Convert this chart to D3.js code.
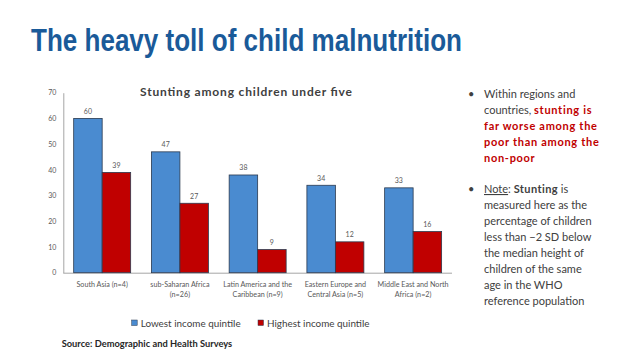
<!DOCTYPE html>
<html>
<head>
<meta charset="utf-8">
<script src="https://cdn.jsdelivr.net/npm/d3@7"></script>
<style>
html,body{margin:0;padding:0;background:#fff;}
svg{display:block;}
</style>
</head>
<body>
<svg id="c" width="638" height="359"></svg>
<script>
const categories = ["South Asia (n=4)", "sub-Saharan Africa (n=26)", "Latin America and the Caribbean (n=9)", "Eastern Europe and Central Asia (n=5)", "Middle East and North Africa (n=2)"];
const categoryLines = [["South Asia (n=4)"], ["sub-Saharan Africa", "(n=26)"], ["Latin America and the", "Caribbean (n=9)"], ["Eastern Europe and", "Central Asia (n=5)"], ["Middle East and North", "Africa (n=2)"]];
const seriesNames = ["Lowest income quintile", "Highest income quintile"];
const lowest = [60, 47, 38, 34, 33];
const highest = [39, 27, 9, 12, 16];
const yTicks = [0, 10, 20, 30, 40, 50, 60, 70];
const seriesColors = ["#4a8bd0", "#c00000"];

const svg = d3.select("#c");
const FONT = "Lato, 'Open Sans', sans-serif";

// Main title
svg.append("text")
  .attr("x", 31).attr("y", 50.5)
  .attr("font-family", "'Liberation Sans', Arial, sans-serif")
  .attr("font-weight", "bold").attr("font-size", 31)
  .attr("fill", "#1a5a99")
  .attr("textLength", 431).attr("lengthAdjust", "spacingAndGlyphs")
  .text("The heavy toll of child malnutrition");

// Scales
const x0 = d3.scaleBand().domain(categories).range([63.3, 452]).paddingInner(0.267).paddingOuter(0.1335);
const x1 = d3.scaleBand().domain(seriesNames).range([0, x0.bandwidth()]);
const y = d3.scaleLinear().domain([0, 70]).range([272.7, 92.7]);

// Chart title
svg.append("text")
  .attr("x", 140).attr("y", 95.5)
  .attr("font-family", FONT).attr("font-weight", "bold").attr("font-size", 12)
  .attr("fill", "#404040")
  .attr("textLength", 212).attr("lengthAdjust", "spacing")
  .text("Stunting among children under five");

// Y axis
const yAxis = d3.axisLeft(y).tickValues(yTicks).tickSize(0).tickPadding(7);
const gy = svg.append("g").attr("transform", "translate(63.3,0)").call(yAxis);
gy.select(".domain").attr("stroke", "#a6a6a6");
gy.selectAll("text").attr("font-family", FONT).attr("font-size", 7).attr("fill", "#595959");

// X axis
const xAxis = d3.axisBottom(x0).tickSize(0).tickFormat("");
const gx = svg.append("g").attr("transform", "translate(0,272.7)").call(xAxis);
gx.select(".domain").attr("stroke", "#a6a6a6").attr("d", "M63.3,0.5H452");

// Bars
const data = categories.map((c, i) => ({cat: c, vals: [lowest[i], highest[i]]}));
const groups = svg.append("g").selectAll("g").data(data).join("g")
  .attr("transform", d => `translate(${x0(d.cat)},0)`);
groups.selectAll("rect").data(d => d.vals.map((v, j) => ({s: seriesNames[j], v, j}))).join("rect")
  .attr("x", d => x1(d.s)).attr("width", x1.bandwidth())
  .attr("y", d => y(d.v)).attr("height", d => y(0) - y(d.v))
  .attr("fill", d => seriesColors[d.j])
  .attr("stroke", "#2b3a4f").attr("stroke-width", 0.8);
groups.selectAll("text.v").data(d => d.vals.map((v, j) => ({s: seriesNames[j], v, j}))).join("text")
  .attr("class", "v")
  .attr("x", d => x1(d.s) + x1.bandwidth() / 2).attr("y", d => y(d.v) - 4.5)
  .attr("text-anchor", "middle")
  .attr("font-family", FONT).attr("font-size", 7).attr("fill", "#595959")
  .text(d => d.v);

// Category labels
categories.forEach((c, i) => {
  const t = svg.append("text")
    .attr("text-anchor", "middle")
    .attr("font-family", FONT).attr("font-size", 7.2).attr("fill", "#595959");
  categoryLines[i].forEach((ln, k) => {
    t.append("tspan").attr("x", x0(c) + x0.bandwidth() / 2).attr("y", 286.5 + k * 10).text(ln);
  });
});

// Legend
const legendX = [131.7, 258];
seriesNames.forEach((s, i) => {
  svg.append("rect").attr("x", legendX[i]).attr("y", 320).attr("width", 5.5).attr("height", 5.5)
    .attr("fill", seriesColors[i]).attr("stroke", "#2b3a4f").attr("stroke-width", 0.5);
  svg.append("text").attr("x", legendX[i] + 9).attr("y", 326.5)
    .attr("font-family", FONT).attr("font-size", 9.9).attr("fill", "#404040")
    .text(s);
});

// Source
svg.append("text").attr("x", 61.7).attr("y", 347)
  .attr("font-family", FONT).attr("font-weight", "bold").attr("font-size", 9.3).attr("fill", "#262626")
  .text("Source: Demographic and Health Surveys");

// Right-side bullet text
const rx = 484, bx = 468;
const bulletLines = [
  {y: 98, bullet: true, parts: [{t: "Within regions and"}]},
  {y: 114, parts: [{t: "countries, "}, {t: "stunting is", red: true}]},
  {y: 130, parts: [{t: "far worse among the", red: true}]},
  {y: 146, parts: [{t: "poor than among the", red: true}]},
  {y: 162, parts: [{t: "non-poor", red: true}]},
  {y: 193, bullet: true, parts: [{t: "Note", u: true}, {t: ": "}, {t: "Stunting", b: true}, {t: " is"}]},
  {y: 209, parts: [{t: "measured here as the"}]},
  {y: 225, parts: [{t: "percentage of children"}]},
  {y: 241, parts: [{t: "less than \u22122 SD below"}]},
  {y: 257, parts: [{t: "the median height of"}]},
  {y: 273, parts: [{t: "children of the same"}]},
  {y: 289, parts: [{t: "age in the WHO"}]},
  {y: 305, parts: [{t: "reference population"}]}
];
bulletLines.forEach(l => {
  if (l.bullet) {
    svg.append("text").attr("x", bx).attr("y", l.y).attr("font-family", FONT).attr("font-size", 11)
      .attr("fill", "#404040").text("\u2022");
  }
  const t = svg.append("text").attr("x", rx).attr("y", l.y)
    .attr("font-family", FONT).attr("font-size", 11).attr("fill", "#404040");
  l.parts.forEach(p => {
    const ts = t.append("tspan").text(p.t);
    if (p.red) ts.attr("fill", "#c00000").attr("font-weight", "bold").attr("letter-spacing", 0.7);
    if (p.b) ts.attr("font-weight", "bold").attr("letter-spacing", 0.4);
    if (p.u) ts.attr("text-decoration", "underline");
  });
});
</script>
</body>
</html>
